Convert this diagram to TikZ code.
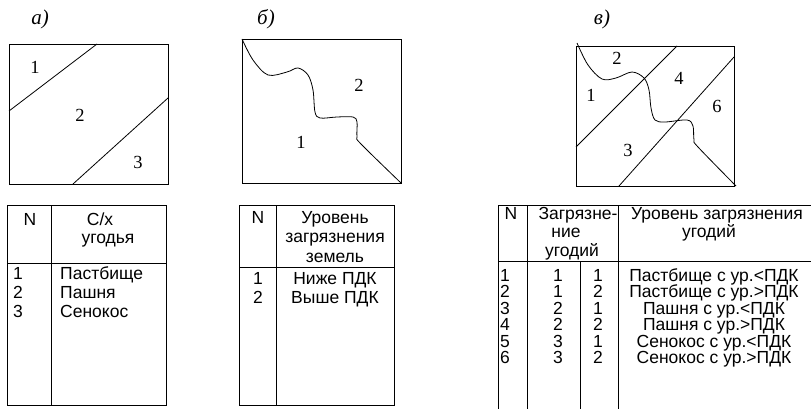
\documentclass[tikz,border=0pt]{standalone}
\usepackage{fontspec}
\setmainfont{Liberation Serif}
\newfontfamily\tabfont{Liberation Sans}
\usetikzlibrary{positioning}

\begin{document}
\begin{tikzpicture}[x=1pt,y=-1pt,
    every node/.style={inner sep=0pt},
    frame/.style ={draw,line width=0.9pt},
    border/.style={line width=0.8pt},
    rule/.style  ={line width=0.8pt},
    wave/.style  ={line width=0.8pt,smooth,tension=0.55},
    tag/.style   ={font=\fontsize{21}{24}\selectfont\itshape,anchor=base},
    zone/.style  ={font=\fontsize{18.5}{20}\selectfont,anchor=base},
    cell/.style  ={font=\tabfont\fontsize{17.5}{19}\selectfont,anchor=base},
    lcell/.style ={cell,anchor=base west},
  ]
  \useasboundingbox (0,0) rectangle (811,409);

  % --- panel a: land use ---
  \node[tag] (tagA) at (40,25) {а)};
  \draw[frame] (9,44) rectangle (168,184);
  \draw[border] (9,111) -- (97,44);
  \draw[border] (73,184) -- (168,98);
  \node[zone] (a1) at (35,74)  {1};
  \node[zone] (a2) at (80,122) {2};
  \node[zone] (a3) at (138,168) {3};

  % --- panel b: pollution level ---
  \node[tag] (tagB) at (266,25) {б)};
  \draw[frame] (242,39) rectangle (401,183);
  \draw[wave] plot coordinates {(242,39) (253,60) (268,75) (287,72) (298,68)
    (308,75) (313,90) (315,112) (320,118) (337,117) (353,117) (357,122)
    (357,137) (361,144) (401,183)};
  \node[zone] (b2) at (359,92)  {2};
  \node[zone] (b1) at (301,149) {1};

  % --- panel c: overlay ---
  \node[tag] (tagC) at (602,25) {в)};
  \draw[frame] (576,46) rectangle (734,186);
  \draw[border] (576,147) -- (677,46);
  \draw[border] (619,186) -- (734,57);
  \draw[wave] plot coordinates {(577,43) (588,65) (602,79) (616,78) (632,72)
    (644,78) (649,90) (651,108) (655,120) (665,122) (687,120) (693,126)
    (694,140) (698,147) (736,186)};
  \node[zone] (c2) at (617,65)  {2};
  \node[zone] (c4) at (679,85)  {4};
  \node[zone] (c1) at (591,102) {1};
  \node[zone] (c6) at (717,113) {6};
  \node[zone] (c3) at (628,157) {3};

  % --- table a ---
  \draw[rule] (7,205) rectangle (166,405);
  \draw[rule] (51,205) -- (51,405);
  \draw[rule] (7,263) -- (166,263);
  \node[cell] (haN) at (30,225)  {N};
  \node[cell] (haT) at (100,225) {С/х};
  \node[cell] (haU) at (108,243) {угодья};
  \foreach \n/\txt [count=\i] in {1/Пастбище,2/Пашня,3/Сенокос}{
    \node[lcell] (na\i) at (13,260+19*\i) {\n};
    \node[lcell] (va\i) at (60,260+19*\i) {\txt};
  }

  % --- table b ---
  \draw[rule] (239,205) rectangle (394,405);
  \draw[rule] (276,205) -- (276,405);
  \draw[rule] (239,267) -- (394,267);
  \node[cell] (hbN) at (258,223) {N};
  \node[cell] (hb1) at (335,223) {Уровень};
  \node[cell] (hb2) at (335,242) {загрязнения};
  \node[cell] (hb3) at (335,262) {земель};
  \foreach \n/\txt [count=\i] in {1/Ниже ПДК,2/Выше ПДК}{
    \node[cell] (nb\i) at (258,265+19*\i) {\n};
    \node[cell] (vb\i) at (335,265+19*\i) {\txt};
  }

  % --- table c ---
  \draw[rule] (498,205) -- (811,205);
  \draw[rule] (498,261) -- (811,261);
  \foreach \x in {498,527,618}
    \draw[rule] (\x,205) -- (\x,409);
  \draw[rule] (580,261) -- (580,409);
  \node[cell] (hcN) at (511,219) {N};
  \node[cell] (hc1) at (578,219) {Загрязне-};
  \node[cell] (hc2) at (566,237) {ние};
  \node[cell] (hc3) at (572,256) {угодий};
  \node[cell] (hc4) at (717,219) {Уровень загрязнения};
  \node[cell] (hc5) at (709,237) {угодий};
  \foreach \u/\p/\txt [count=\i] in {1/1/Пастбище с ур.<ПДК,1/2/Пастбище с ур.>ПДК,
      2/1/Пашня с ур.<ПДК,2/2/Пашня с ур.>ПДК,
      3/1/Сенокос с ур.<ПДК,3/2/Сенокос с ур.>ПДК}{
    \node[cell] (nc\i) at (505,264.5+16.5*\i) {\i};
    \node[cell] (uc\i) at (558,264.5+16.5*\i) {\u};
    \node[cell] (pc\i) at (598,264.5+16.5*\i) {\p};
    \node[cell] (vc\i) at (714,264.5+16.5*\i) {\txt};
  }
\end{tikzpicture}
\end{document}
